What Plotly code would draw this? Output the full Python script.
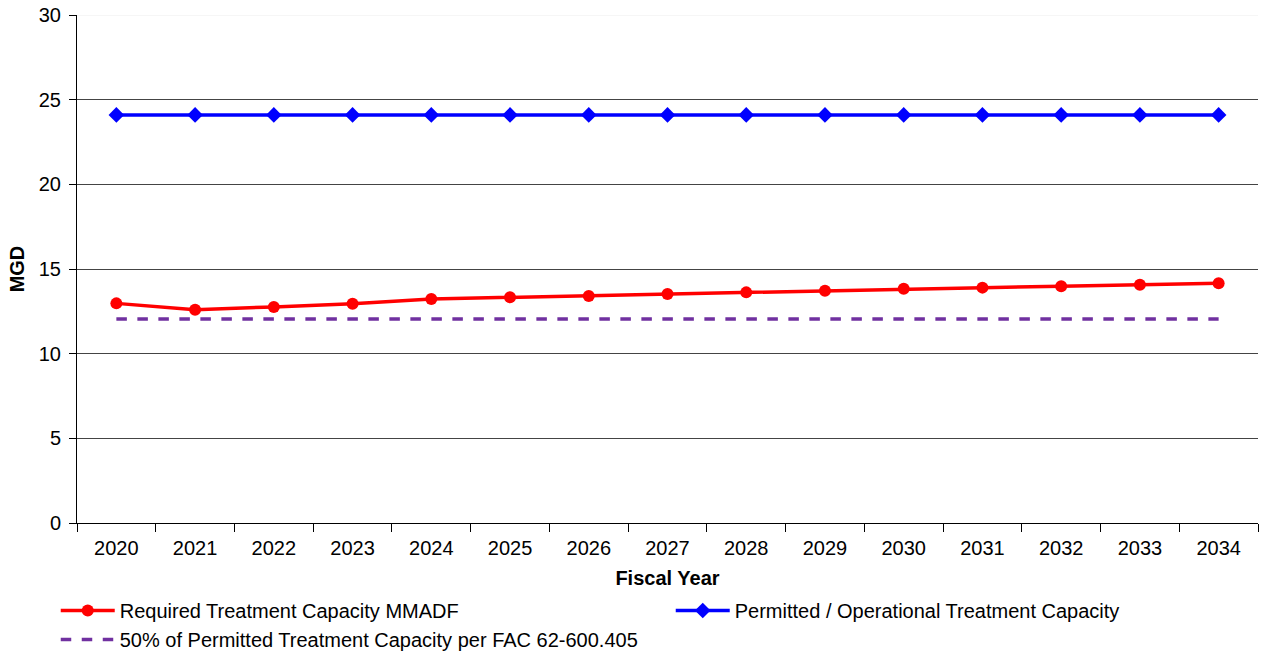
import plotly.graph_objects as go

# Fiscal years and capacity values (MGD)
years = ["2020", "2021", "2022", "2023", "2024", "2025", "2026", "2027",
         "2028", "2029", "2030", "2031", "2032", "2033", "2034"]
required_mmadf = [12.97, 12.60, 12.76, 12.95, 13.23, 13.33, 13.41, 13.52,
                  13.62, 13.72, 13.84, 13.90, 13.98, 14.07, 14.16]
permitted_capacity = [24.1] * len(years)
half_permitted = [v / 2 for v in permitted_capacity]

font_family = "Liberation Sans, Arial, sans-serif"

fig = go.Figure()

fig.add_trace(go.Scatter(
    x=years, y=required_mmadf, mode="lines+markers",
    name="Required Treatment Capacity MMADF",
    line=dict(color="#FF0000", width=3.5),
    marker=dict(symbol="circle", size=12, color="#FF0000"),
))
fig.add_trace(go.Scatter(
    x=years, y=permitted_capacity, mode="lines+markers",
    name="Permitted / Operational Treatment Capacity",
    line=dict(color="#0000FF", width=3.5),
    marker=dict(symbol="diamond", size=12, color="#0000FF"),
))
fig.add_trace(go.Scatter(
    x=years, y=half_permitted, mode="lines",
    name="50% of Permitted Treatment Capacity per FAC 62-600.405",
    line=dict(color="#7030A0", width=3.5, dash="dash"),
))

# soften the top gridline at the axis maximum
fig.add_shape(type="line", xref="paper", x0=0, x1=1, yref="y", y0=30, y1=30,
              line=dict(color="#eeeeee", width=1), layer="above")

fig.update_layout(
    width=1269, height=657,
    margin=dict(l=77, r=11, t=15, b=134, autoexpand=False),
    paper_bgcolor="white", plot_bgcolor="white",
    font=dict(family=font_family, size=20, color="black"),
    showlegend=True,
    legend=dict(
        orientation="h", x=-0.018, y=-0.134, xanchor="left", yanchor="top",
        entrywidth=546, entrywidthmode="pixels",
        font=dict(size=20), itemwidth=54, tracegroupgap=0,
        traceorder="normal",
    ),
    xaxis=dict(
        type="category", range=[-0.5, len(years) - 0.5],
        tickson="boundaries", ticks="outside", ticklen=8,
        tickcolor="black", showline=True, linecolor="black", linewidth=1,
        showgrid=False, ticklabelstandoff=7,
        title=dict(text="<b>Fiscal Year</b>", font=dict(size=20), standoff=12),
        tickfont=dict(size=20),
    ),
    yaxis=dict(
        range=[0, 30], tickvals=[0, 5, 10, 15, 20, 25, 30], ticks="outside",
        ticklen=7, tickcolor="black", showline=True, linecolor="black",
        linewidth=1, showgrid=True, gridcolor="#444444", gridwidth=1,
        zeroline=False, ticklabelstandoff=4,
        title=dict(text="<b>MGD</b>", font=dict(size=20), standoff=8),
        tickfont=dict(size=20),
    ),
)

fig.write_html("out.html")
